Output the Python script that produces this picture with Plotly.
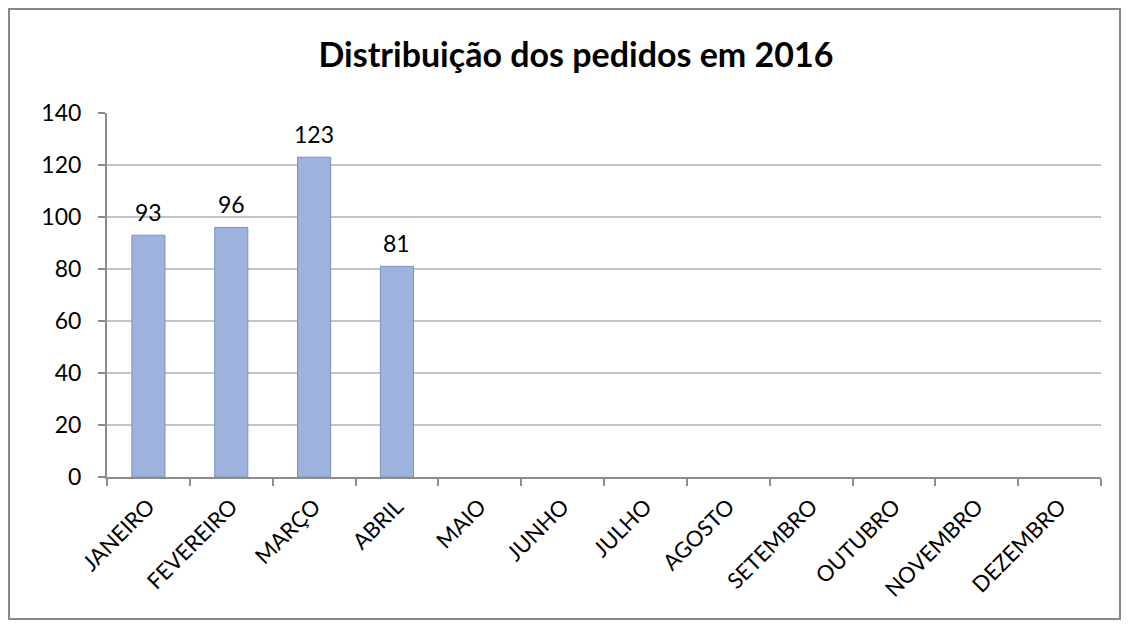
import plotly.graph_objects as go

months = ["JANEIRO", "FEVEREIRO", "MARÇO", "ABRIL", "MAIO", "JUNHO", "JULHO",
          "AGOSTO", "SETEMBRO", "OUTUBRO", "NOVEMBRO", "DEZEMBRO"]
pedidos = [93, 96, 123, 81, None, None, None, None, None, None, None, None]

FONT = "Lato, 'Open Sans', sans-serif"

fig = go.Figure()
fig.add_trace(go.Bar(
    x=months, y=pedidos,
    marker=dict(color="#9DB3DE", line=dict(color="#7D92BC", width=1)),
    width=0.4,
))

# value labels above bars
for m, v in zip(months, pedidos):
    if v is not None:
        fig.add_annotation(x=m, y=v, text=str(v), showarrow=False,
                           yanchor="bottom", yshift=7,
                           font=dict(size=23, color="black", family=FONT))

# page body has an 8px margin; figure coordinates are screen - 8
W, H = 1121, 619
L, T = 99, 105
pw, ph = 994, 364
R = W - L - pw
B = H - T - ph

fig.update_layout(
    width=W, height=H,
    margin=dict(l=L, r=R, t=T, b=B),
    plot_bgcolor="white", paper_bgcolor="white",
    showlegend=False,
    title=dict(text="<b>Distribuição dos pedidos em 2016</b>", x=(576 - 8) / W, xanchor="center",
               y=1 - 47 / H, yanchor="middle",
               font=dict(size=34, color="black", family=FONT)),
    font=dict(family=FONT, color="black"),
    xaxis=dict(
        tickangle=-45, tickfont=dict(size=22, family=FONT, color="black"),
        showline=True, linecolor="#8C8C8C", linewidth=2,
        ticks="outside", tickson="boundaries", ticklen=7, tickcolor="#8C8C8C", tickwidth=2,
        showgrid=False, range=[-0.5, 11.5], ticklabelstandoff=6,
    ),
    yaxis=dict(
        range=[0, 140], dtick=20, tickfont=dict(size=23, family=FONT, color="black"),
        showline=True, linecolor="#8C8C8C", linewidth=2,
        ticks="outside", ticklen=7, tickcolor="#8C8C8C", tickwidth=2,
        showgrid=True, gridcolor="#C4C4C4", gridwidth=2, zeroline=False,
        ticklabelstandoff=12,
    ),
    shapes=[dict(
        type="rect", xref="paper", yref="paper",
        x0=(1 - L) / pw, x1=(1112 - L) / pw,
        y0=-(611 - (H - B)) / ph, y1=((H - B) - 1) / ph,
        line=dict(color="#888888", width=2), fillcolor="rgba(0,0,0,0)",
    )],
)

fig.write_html("out.html")
